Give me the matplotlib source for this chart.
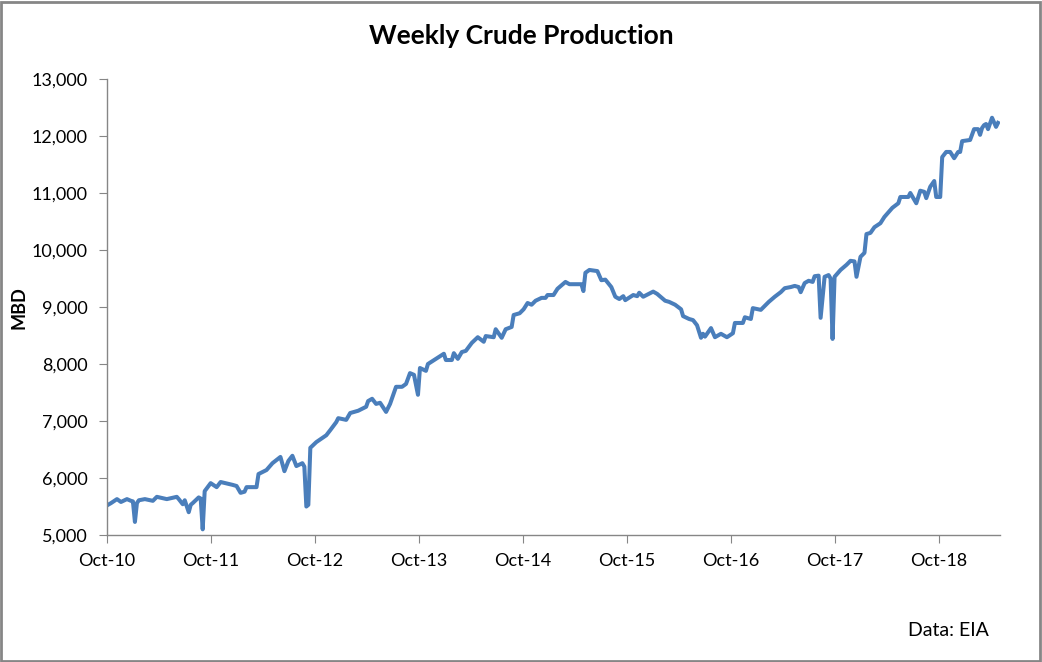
import numpy as np
import matplotlib
matplotlib.use("Agg")
import matplotlib.pyplot as plt
import matplotlib.dates as mdates
from matplotlib.ticker import FuncFormatter
from matplotlib.patches import Rectangle

plt.rcParams['font.family'] = ['Lato', 'DejaVu Sans']

# weeks since 2010-10-01 and production (thousand barrels/day)
weeks = [0, 2, 5, 7, 10, 12, 13, 14, 15, 16, 19, 23, 25, 30, 35, 36, 38, 39, 41, 42,
         43, 46, 47, 48, 49, 52, 55, 57, 63, 65, 67, 69, 70, 75, 76, 80, 83, 87, 89, 91,
         93, 95, 98, 99, 100, 101, 102, 105, 110, 112, 115, 116, 120, 122, 126, 130, 131, 133, 135, 137,
         140, 142, 145, 148, 150, 152, 154, 156, 157, 160, 161, 165, 169, 170, 173, 174, 176, 178, 180, 183,
         186, 189, 190, 194, 195, 198, 200, 203, 204, 207, 209, 211, 213, 215, 218, 220, 221, 224, 226, 230,
         232, 238, 239, 240, 242, 246, 248, 250, 253, 255, 257, 259, 260, 264, 266, 267, 269, 274, 276, 280,
         282, 285, 288, 289, 292, 294, 296, 298, 299, 300, 303, 305, 308, 311, 314, 315, 319, 320, 323, 324,
         328, 330, 332, 335, 338, 340, 343, 345, 347, 348, 350, 352, 354, 355, 357, 358, 360, 362, 363, 364,
         365, 368, 371, 373, 375, 376, 378, 380, 381, 383, 385, 388, 390, 393, 394, 397, 398, 402, 403, 406,
         408, 410, 411, 413, 415, 416, 418, 419, 421, 423, 425, 427, 428, 429, 433, 435, 437, 438, 439, 440,
         441, 442, 444, 446, 447]
production = [5520, 5560, 5630, 5580, 5630, 5600, 5590, 5230, 5560, 5610, 5630, 5600, 5670, 5630, 5670, 5630, 5540, 5610, 5400, 5530,
              5560, 5660, 5640, 5100, 5770, 5910, 5840, 5930, 5880, 5860, 5740, 5760, 5840, 5840, 6070, 6140, 6260, 6370, 6120, 6300,
              6390, 6210, 6260, 6200, 5500, 5530, 6530, 6630, 6750, 6840, 6980, 7050, 7020, 7140, 7180, 7250, 7350, 7390, 7300, 7320,
              7160, 7300, 7600, 7600, 7650, 7840, 7810, 7460, 7930, 7880, 8000, 8090, 8180, 8070, 8070, 8190, 8090, 8210, 8230, 8370,
              8470, 8390, 8490, 8470, 8610, 8460, 8610, 8650, 8860, 8890, 8960, 9070, 9040, 9110, 9160, 9160, 9210, 9210, 9320, 9440,
              9400, 9400, 9280, 9600, 9650, 9630, 9470, 9480, 9350, 9180, 9140, 9190, 9120, 9210, 9190, 9250, 9180, 9270, 9230, 9110,
              9090, 9040, 8960, 8840, 8790, 8770, 8680, 8460, 8530, 8480, 8630, 8470, 8530, 8470, 8540, 8720, 8720, 8820, 8790, 8980,
              8950, 9020, 9090, 9180, 9260, 9330, 9350, 9370, 9350, 9260, 9420, 9460, 9440, 9540, 9550, 8810, 9530, 9560, 9500, 8440,
              9530, 9650, 9740, 9810, 9800, 9530, 9880, 9950, 10280, 10300, 10400, 10470, 10580, 10700, 10740, 10820, 10930, 10930, 11000, 10820,
              11040, 11020, 10910, 11110, 11210, 10930, 10930, 11630, 11720, 11720, 11610, 11720, 11720, 11910, 11930, 12120, 12120, 12020, 12140, 12190,
              12210, 12120, 12320, 12160, 12230]

tick_years = list(range(2010, 2019))

start = np.datetime64('2010-10-01')
dates = start + np.array(weeks) * np.timedelta64(7, 'D')

fig = plt.figure(figsize=(10.42, 6.62), dpi=100)
ax = fig.add_axes([0.1027, 0.1918, 0.857, 0.6889])

ax.plot(dates, production, color='#4A7EBB', linewidth=2.9, solid_joinstyle='round')

ax.set_ylim(5000, 13000)
ax.set_yticks(range(5000, 13001, 1000))
ax.yaxis.set_major_formatter(FuncFormatter(lambda v, p: f'{int(v):,}'))

ax.set_xlim(start, start + np.timedelta64(448 * 7, 'D'))
ax.set_xticks([np.datetime64(f'{y}-10-01') for y in tick_years])
ax.xaxis.set_major_formatter(mdates.DateFormatter('%b-%y'))

for s in ['top', 'right']:
    ax.spines[s].set_visible(False)
for s in ['left', 'bottom']:
    ax.spines[s].set_color('#868686')
    ax.spines[s].set_linewidth(1)
ax.tick_params(axis='both', direction='out', length=6, color='#868686', labelsize=13, labelcolor='black')
ax.tick_params(axis='y', pad=8)
ax.tick_params(axis='x', pad=7)

fig.text(0.018, 0.536, 'MBD', ha='center', va='center', rotation=90, fontsize=13, fontweight='bold')
fig.text(0.5, 0.945, 'Weekly Crude Production', ha='center', va='center', fontsize=19, fontweight='bold')
fig.text(0.91, 0.048, 'Data: EIA', ha='center', va='center', fontsize=14)

fig.patches.append(Rectangle((0.001, 0.002), 0.997, 0.995, transform=fig.transFigure,
                             fill=False, edgecolor='#868686', linewidth=2))

fig.savefig('out.png', dpi=100)
